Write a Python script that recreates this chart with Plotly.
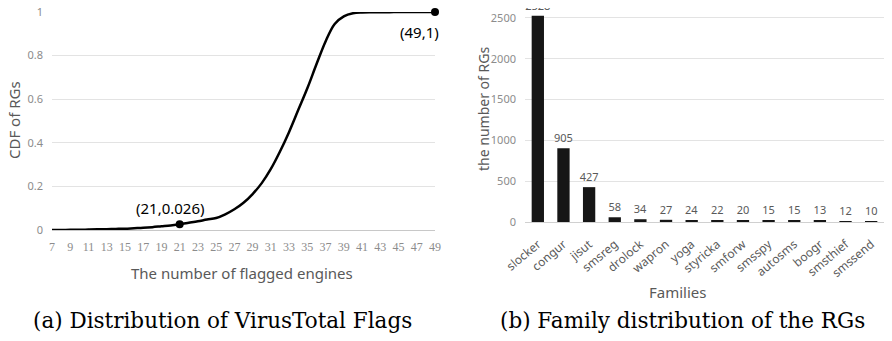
import plotly.graph_objects as go

# ---- data: (a) CDF of VirusTotal flags ----
engines = list(range(7, 50))
cdf = [0.0, 0.0, 0.001, 0.001, 0.002, 0.003, 0.004, 0.005, 0.006, 0.008,
       0.010, 0.013, 0.017, 0.021, 0.026, 0.033, 0.040, 0.048, 0.055, 0.072,
       0.095, 0.125, 0.165, 0.215, 0.280, 0.360, 0.450, 0.550, 0.650, 0.760,
       0.865, 0.945, 0.980, 0.994, 0.998, 0.999, 0.999, 0.999, 1.0, 1.0,
       1.0, 1.0, 1.0]
mark_x = [21, 49]
mark_y = [0.026, 1]
mark_text = ["(21,0.026)", "(49,1)"]
x_ticks = list(range(7, 50, 2))
y_ticks_a = [0, 0.2, 0.4, 0.6, 0.8, 1]

# ---- data: (b) family distribution ----
families = ["slocker", "congur", "jisut", "smsreg", "drolock", "wapron", "yoga",
            "styricka", "smforw", "smsspy", "autosms", "boogr", "smsthief", "smssend"]
counts = [2528, 905, 427, 58, 34, 27, 24, 22, 20, 15, 15, 13, 12, 10]
y_ticks_b = [0, 500, 1000, 1500, 2000, 2500]

# page has an 8px body margin; figure sized to fit inside the window
OFF = 8
W, H = 892 - 2 * OFF, 341 - 2 * OFF
SANS = "Noto Sans"
SERIF = "DejaVu Serif"
GRAY = "#595959"
TICKGRAY = "#8c8c8c"

def px(x0, x1):
    return [(x0 - OFF) / W, (x1 - OFF) / W]

def py(ytop, ybot):
    return [(H - (ybot - OFF)) / H, (H - (ytop - OFF)) / H]

def pxp(x):
    return (x - OFF) / W

def pyp(y):
    return (H - (y - OFF)) / H

fig = go.Figure()

fig.add_trace(go.Scatter(
    x=engines, y=cdf, mode="lines", line=dict(color="black", width=2.5, shape="spline"),
    xaxis="x", yaxis="y", showlegend=False, hoverinfo="skip"))
fig.add_trace(go.Scatter(
    x=mark_x, y=mark_y, mode="markers", marker=dict(color="black", size=8),
    xaxis="x", yaxis="y", showlegend=False, cliponaxis=False))

fig.add_trace(go.Bar(
    x=families, y=counts, marker=dict(color="#161616", line=dict(width=0)),
    text=[str(c) for c in counts], textposition="outside", cliponaxis=False,
    constraintext="none",
    textfont=dict(family=SANS, size=11, color=GRAY),
    xaxis="x2", yaxis="y2", showlegend=False))

fig.update_layout(
    width=W, height=H,
    margin=dict(l=0, r=0, t=0, b=0, autoexpand=False),
    paper_bgcolor="white", plot_bgcolor="white",
    bargap=0.52,
    xaxis=dict(domain=px(52, 435), range=[7, 49], tickvals=x_ticks,
               showgrid=False, zeroline=False, showline=False, ticks="",
               tickfont=dict(family="Liberation Serif", size=12, color=TICKGRAY),
               ticklabelstandoff=8, anchor="y", automargin=False,
               ticklabeloverflow="allow"),
    yaxis=dict(domain=py(12, 230), range=[0, 1], tickvals=y_ticks_a,
               showgrid=True, gridcolor="#e3e3e3", gridwidth=1,
               zeroline=True, zerolinecolor="#c8c8c8", zerolinewidth=1,
               showline=False, ticks="",
               tickfont=dict(family=SANS, size=11, color=TICKGRAY),
               ticklabelstandoff=8, anchor="x", automargin=False,
               ticklabeloverflow="allow"),
    xaxis2=dict(domain=px(525, 884), showgrid=False, zeroline=False, showline=False,
                ticks="", tickangle=-40,
                tickfont=dict(family=SANS, size=12, color=GRAY), anchor="y2",
                ticklabelstandoff=12, automargin=False, ticklabeloverflow="allow"),
    yaxis2=dict(domain=py(12, 222), range=[0, 2573], tickvals=y_ticks_b,
                showgrid=True, gridcolor="#e3e3e3", gridwidth=1,
                zeroline=True, zerolinecolor="#d0d0d0", zerolinewidth=1,
                showline=False, ticks="",
                tickfont=dict(family=SANS, size=11, color=TICKGRAY),
                ticklabelstandoff=8, anchor="x2", automargin=False,
                ticklabeloverflow="allow"),
)

C = dict(xanchor="center", yanchor="middle", showarrow=False)
ann = []
# point annotations
ann.append(dict(x=mark_x[0], y=mark_y[0], xref="x", yref="y", text=mark_text[0],
                yshift=16, xshift=-9, font=dict(family=SANS, size=15, color="black"), **C))
ann.append(dict(x=mark_x[1], y=mark_y[1], xref="x", yref="y", text=mark_text[1],
                yshift=-20, xshift=-16, font=dict(family=SANS, size=15, color="black"), **C))
# axis titles
ann.append(dict(x=pxp(14), y=pyp(120), xref="paper", yref="paper", text="CDF of RGs",
                textangle=-90, font=dict(family=SANS, size=15, color=GRAY), **C))
ann.append(dict(x=pxp(242), y=pyp(273), xref="paper", yref="paper",
                text="The number of flagged engines",
                font=dict(family=SANS, size=15, color=GRAY), **C))
ann.append(dict(x=pxp(483), y=pyp(109), xref="paper", yref="paper",
                text="the number of RGs", textangle=-90,
                font=dict(family=SANS, size=14, color=GRAY), **C))
ann.append(dict(x=pxp(677), y=pyp(292), xref="paper", yref="paper",
                text="Families", font=dict(family=SANS, size=15, color=GRAY), **C))
# captions
ann.append(dict(x=pxp(222), y=pyp(320), xref="paper", yref="paper",
                text="(a) Distribution of VirusTotal Flags",
                font=dict(family=SERIF, size=21.5, color="black"), **C))
ann.append(dict(x=pxp(682), y=pyp(320), xref="paper", yref="paper",
                text="(b) Family distribution of the RGs",
                font=dict(family=SERIF, size=21.5, color="black"), **C))
fig.update_layout(annotations=ann)

fig.write_html("out.html")
